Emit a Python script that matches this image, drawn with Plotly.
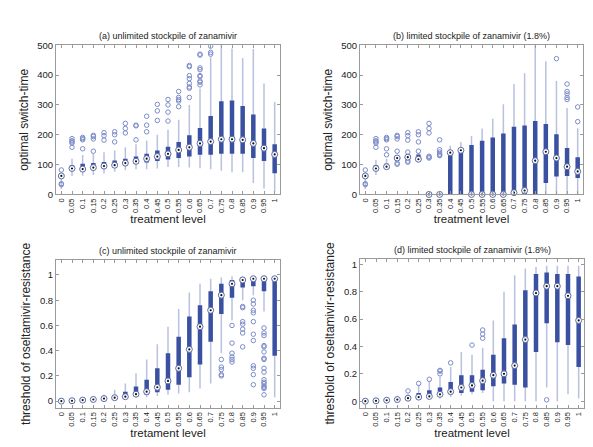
import plotly.graph_objects as go

levels = ["0", "0.05", "0.1", "0.15", "0.2", "0.25", "0.3", "0.35", "0.4", "0.45", "0.5",
          "0.55", "0.6", "0.65", "0.7", "0.75", "0.8", "0.85", "0.9", "0.95", "1"]

# (a) unlimited stockpile, optimal switch-time
a_q1 = [58, 84, 84, 87, 90, 92, 98, 103, 107, 112, 117, 122, 127, 133, 133, 136, 136, 136, 122, 112, 71]
a_med = [62, 87, 85, 90, 95, 98, 105, 111, 120, 127, 136, 149, 158, 171, 177, 185, 185, 183, 171, 155, 134]
a_q3 = [64, 98, 103, 105, 109, 114, 120, 127, 136, 147, 160, 176, 198, 223, 263, 312, 315, 296, 268, 221, 168]
a_lo = [18, 62, 63, 65, 70, 76, 81, 84, 84, 87, 92, 92, 90, 88, 84, 79, 74, 74, 38, 20, 9]
a_hi = [64, 120, 132, 136, 141, 147, 158, 168, 180, 200, 217, 250, 300, 355, 460, 500, 489, 457, 487, 372, 310]
a_out = [[82, 36, 33], [187, 180, 176, 172, 158], [191, 187, 183, 153], [198, 194, 186, 145],
         [207, 197, 182], [210, 200, 176], [238, 221, 206], [232, 230, 183], [262, 232, 210],
         [302, 280, 248], [318, 300, 276, 246], [345, 325, 318, 313, 294],
         [432, 428, 398, 388, 372, 360, 356, 325], [470, 467, 424, 418, 398, 395, 380, 376, 367],
         [497, 476, 470], [], [], [], [], [], []]

# (b) limited stockpile, optimal switch-time
b_q1 = [58, 80, 92, 118, 120, 115, 0, 0, 0, 0, 0, 0, 0, 0, 0, 0, 0, 38, 60, 62, 55]
b_med = [62, 87, 93, 122, 125, 118, 0, 0, 140, 148, 0, 0, 0, 0, 6, 13, 113, 143, 122, 93, 77]
b_q3 = [64, 98, 103, 126, 128, 133, 3, 3, 140, 148, 166, 180, 191, 204, 227, 231, 246, 236, 202, 156, 125]
b_lo = [18, 65, 88, 112, 115, 113, 0, 0, 0, 0, 0, 0, 0, 0, 0, 0, 0, 0, 0, 0, 0]
b_hi = [64, 115, 120, 132, 135, 138, 3, 3, 163, 176, 196, 221, 254, 302, 370, 406, 500, 446, 380, 290, 222]
b_out = [[82, 36, 33], [187, 180, 176, 172, 158], [191, 187, 183, 153, 133], [198, 194, 186, 145, 105, 101],
         [207, 197, 182, 142, 112, 108], [210, 200, 176, 145, 128], [238, 221, 206, 128, 125, 122],
         [183, 150, 142, 135, 132, 130], [], [], [], [], [], [], [], [], [], [],
         [455], [370, 345, 337, 325, 318], [293, 244]]

# (c) unlimited stockpile, threshold of oseltamivir-resistance
c_q1 = [0, 0.002, 0.006, 0.011, 0.016, 0.02, 0.035, 0.04, 0.05, 0.07, 0.09, 0.13, 0.19, 0.29, 0.47, 0.69, 0.82, 0.90, 0.91, 0.87, 0.36]
c_med = [0, 0.003, 0.008, 0.013, 0.02, 0.027, 0.035, 0.055, 0.075, 0.11, 0.16, 0.26, 0.41, 0.59, 0.72, 0.84, 0.93, 0.96, 0.97, 0.97, 0.97]
c_q3 = [0, 0.004, 0.01, 0.015, 0.024, 0.045, 0.075, 0.115, 0.17, 0.26, 0.38, 0.51, 0.67, 0.76, 0.87, 0.93, 0.96, 0.98, 0.98, 0.98, 0.97]
c_lo = [0, 0.002, 0.006, 0.01, 0.014, 0.018, 0.02, 0.03, 0.03, 0.04, 0.05, 0.06, 0.07, 0.1, 0.14, 0.38, 0.64, 0.8, 0.84, 0.71, 0.03]
c_hi = [0, 0.005, 0.012, 0.02, 0.05, 0.09, 0.14, 0.22, 0.33, 0.45, 0.59, 0.73, 0.86, 0.93, 0.97, 0.98, 0.99, 0.99, 0.99, 0.99, 0.98]
c_out = [[], [], [], [], [], [], [], [], [], [], [], [], [], [], [],
         [0.33, 0.27, 0.25, 0.21, 0.20],
         [0.60, 0.46, 0.38, 0.35, 0.33, 0.31],
         [0.75, 0.74, 0.63, 0.61, 0.57, 0.54, 0.43],
         [0.80, 0.77, 0.72, 0.70, 0.63, 0.53, 0.48, 0.28, 0.26, 0.21, 0.13],
         [0.58, 0.54, 0.52, 0.44, 0.43, 0.39, 0.34, 0.33, 0.26, 0.23, 0.17, 0.15, 0.14, 0.12, 0.11, 0.10, 0.05],
         []]

# (d) limited stockpile, threshold of oseltamivir-resistance
d_q1 = [0, 0.002, 0.005, 0.01, 0.018, 0.03, 0.035, 0.05, 0.05, 0.06, 0.07, 0.08, 0.11, 0.13, 0.12, 0.10, 0.36, 0.57, 0.43, 0.41, 0.25]
d_med = [0, 0.003, 0.007, 0.012, 0.022, 0.03, 0.035, 0.05, 0.07, 0.10, 0.115, 0.15, 0.19, 0.20, 0.26, 0.45, 0.79, 0.84, 0.84, 0.77, 0.59]
d_q3 = [0, 0.004, 0.009, 0.015, 0.03, 0.06, 0.08, 0.10, 0.14, 0.19, 0.19, 0.23, 0.34, 0.46, 0.56, 0.81, 0.93, 0.94, 0.93, 0.93, 0.91]
d_lo = [0, 0.002, 0.005, 0.008, 0.012, 0.02, 0.025, 0.02, 0.03, 0.04, 0.05, 0.06, 0, 0, 0, 0, 0, 0.10, 0, 0.05, 0.02]
d_hi = [0, 0.005, 0.012, 0.04, 0.05, 0.12, 0.15, 0.18, 0.25, 0.36, 0.34, 0.39, 0.59, 0.80, 0.92, 0.97, 0.98, 0.99, 0.99, 0.99, 0.99]
d_out = [[], [], [], [], [0.075], [0.13], [0.16], [0.20, 0.22, 0.225], [0.28], [], [0.41],
         [0.46, 0.49, 0.52], [], [], [], [], [], [0.01], [], [], []]

titles = ["(a) unlimited stockpile of zanamivir", "(b) limited stockpile of zanamivir (1.8%)",
          "(c) unlimited stockpile of zanamivir", "(d) limited stockpile of zanamivir (1.8%)"]
ytitles = ["optimal switch-time", "optimal switch-time",
           "threshold of oseltamivir-resistance", "threshold of oseltamivir-resistance"]
xtitles = ["treatment level", "treatment level", "tretament level", "treatment level"]

BOX = "#3a50a0"
WHISK = "#b8c2de"
OUTC = "#7c8cc8"
FONT = "Liberation Sans, Arial, sans-serif"

fig = go.Figure()


def seg(xs, y0, y1):
    X, Y = [], []
    for x, a, b in zip(xs, y0, y1):
        X += [x, x, None]
        Y += [a, b, None]
    return X, Y


def add_panel(k, q1, med, q3, lo, hi, out):
    xa = "x" if k == 1 else "x%d" % k
    ya = "y" if k == 1 else "y%d" % k
    X, Y = seg(levels, lo, hi)
    fig.add_trace(go.Scatter(x=X, y=Y, mode="lines", line=dict(color=WHISK, width=1.5),
                             xaxis=xa, yaxis=ya, showlegend=False, hoverinfo="skip"))
    X, Y = seg(levels, q1, q3)
    fig.add_trace(go.Scatter(x=X, y=Y, mode="lines", line=dict(color=BOX, width=4.5),
                             xaxis=xa, yaxis=ya, showlegend=False, hoverinfo="skip"))
    ox, oy = [], []
    for lv, vals in zip(levels, out):
        for v in vals:
            ox.append(lv)
            oy.append(v)
    fig.add_trace(go.Scatter(x=ox, y=oy, mode="markers",
                             marker=dict(symbol="circle-open", size=4.5, color=OUTC, line=dict(width=1)),
                             xaxis=xa, yaxis=ya, showlegend=False, cliponaxis=True))
    fig.add_trace(go.Scatter(x=levels, y=med, mode="markers",
                             marker=dict(symbol="circle", size=6, color="white",
                                         line=dict(color="#5a6aa8", width=1)),
                             xaxis=xa, yaxis=ya, showlegend=False, cliponaxis=False))
    fig.add_trace(go.Scatter(x=levels, y=med, mode="markers",
                             marker=dict(symbol="circle", size=2.2, color="#111111"),
                             xaxis=xa, yaxis=ya, showlegend=False, cliponaxis=False))


add_panel(1, a_q1, a_med, a_q3, a_lo, a_hi, a_out)
add_panel(2, b_q1, b_med, b_q3, b_lo, b_hi, b_out)
add_panel(3, c_q1, c_med, c_q3, c_lo, c_hi, c_out)
add_panel(4, d_q1, d_med, d_q3, d_lo, d_hi, d_out)

W, H = 593, 447
xdom = [[48 / W, 272 / W], [352 / W, 575 / W], [48 / W, 272 / W], [352 / W, 576 / W]]
ydom = [[(H - 185) / H, (H - 32) / H], [(H - 185) / H, (H - 32) / H],
        [(H - 404) / H, (H - 252) / H], [(H - 404) / H, (H - 251) / H]]
yranges = [[0, 500], [0, 500], [-0.055, 1.12], [-0.05, 1.04]]
ytickv = [[0, 100, 200, 300, 400, 500], [0, 100, 200, 300, 400, 500],
          [0, 0.2, 0.4, 0.6, 0.8, 1], [0, 0.2, 0.4, 0.6, 0.8, 1]]

lay = dict(width=W, height=H, margin=dict(l=0, r=0, t=0, b=0),
           paper_bgcolor="white", plot_bgcolor="white",
           font=dict(family=FONT, color="#222222"), annotations=[])
for i in range(4):
    s = "" if i == 0 else str(i + 1)
    anchor_y = "y" + s
    anchor_x = "x" + s
    lay["xaxis" + s] = dict(domain=xdom[i], anchor=anchor_y, type="category",
                            categoryorder="array", categoryarray=levels,
                            tickmode="array", tickvals=levels, ticktext=levels,
                            range=[-0.5, 20.5], tickangle=-90, tickfont=dict(size=7.5),
                            showline=True, linecolor="#9a9a9a", linewidth=1, mirror="allticks",
                            ticks="inside", ticklen=3, tickcolor="#9a9a9a",
                            showgrid=False, zeroline=False,
                            title=dict(text=xtitles[i], font=dict(size=11.5), standoff=2))
    lay["yaxis" + s] = dict(domain=ydom[i], anchor=anchor_x, range=yranges[i],
                            tickvals=ytickv[i], tickfont=dict(size=9.5),
                            showline=True, linecolor="#9a9a9a", linewidth=1, mirror="allticks",
                            ticks="inside", ticklen=3, tickcolor="#9a9a9a",
                            showgrid=False, zeroline=False,
                            title=dict(text=ytitles[i], font=dict(size=12), standoff=6))
    lay["annotations"].append(dict(text=titles[i], xref="paper", yref="paper",
                                   x=(xdom[i][0] + xdom[i][1]) / 2, y=ydom[i][1] + 9 / H,
                                   xanchor="center", yanchor="middle", showarrow=False,
                                   font=dict(size=9, color="#222222")))
fig.update_layout(**lay)
fig.write_html("out.html")
